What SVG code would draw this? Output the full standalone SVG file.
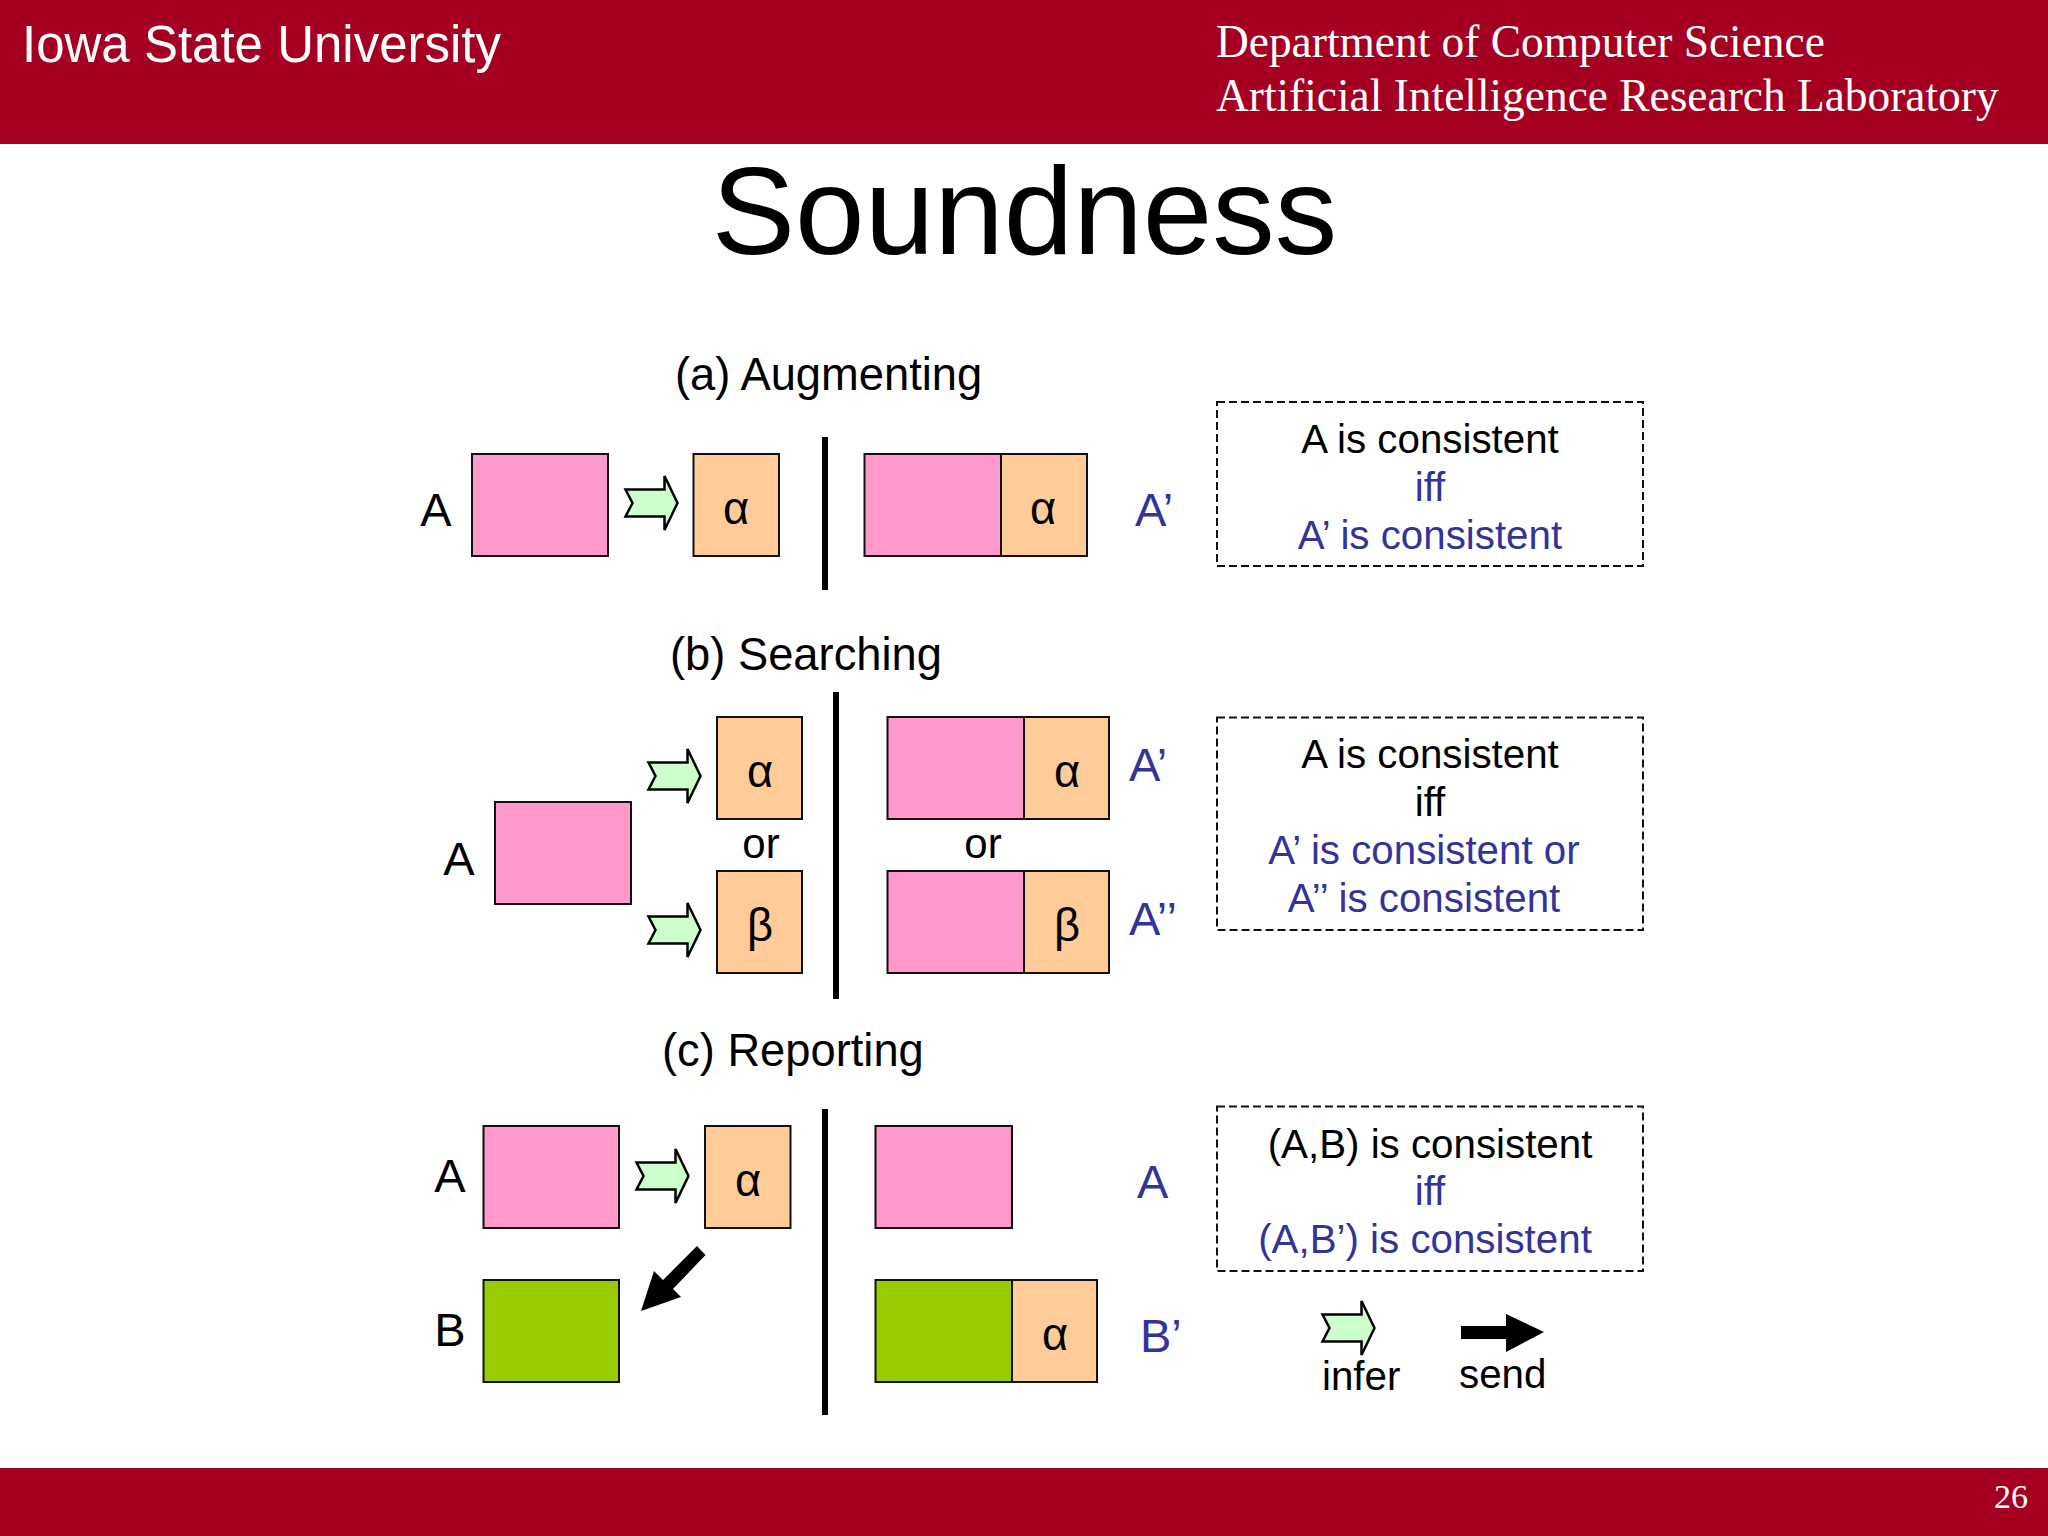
<svg xmlns="http://www.w3.org/2000/svg" width="2048" height="1536" viewBox="0 0 2048 1536">
<style>
text{font-family:"Liberation Sans",Arial,sans-serif;font-size:45.3px;fill:#000}
.s{font-family:"Liberation Serif","Times New Roman",serif;fill:#fff;font-size:45.4px}
.bl{fill:#333399}
.lb{font-size:47px}
.m{text-anchor:middle}
.b{font-size:40.3px;text-anchor:middle}
.p{fill:#FF99CC;stroke:#111;stroke-width:2}
.o{fill:#FFCC99;stroke:#111;stroke-width:2}
.g{fill:#99CC00;stroke:#111;stroke-width:2}
.d{fill:none;stroke:#111;stroke-width:2;stroke-dasharray:8 4}
.v{stroke:#000;stroke-width:6;fill:none}
.i{fill:#CCFFCC;stroke:#000;stroke-width:2.5}
</style>
<defs><path id="inf" d="M0,-13.5L39,-13.5L39,-27L52,0L39,27L39,13.5L0,13.5L7,0Z"/></defs>
<rect width="2048" height="1536" fill="#fff"/>
<g id="header"><rect width="2048" height="144" fill="#A50021"/>
<text x="22" y="62" style="font-size:51px;fill:#fff">Iowa State University</text>
<text class="s" x="1216" y="57">Department of Computer Science</text>
<text class="s" x="1216" y="111">Artificial Intelligence Research Laboratory</text></g>
<g id="footer"><rect y="1468" width="2048" height="68" fill="#A50021"/>
<text class="s" x="2028" y="1508" text-anchor="end" style="font-size:34px">26</text></g>
<text id="title" x="1024.500" y="254" class="m" style="font-size:125px">Soundness</text>
<text id="label-a" x="675" y="390">(a) Augmenting</text>
<text id="label-b" x="670" y="670">(b) Searching</text>
<text id="label-c" x="662" y="1066">(c) Reporting</text>

<g id="connectors">
<line class="v" x1="825" y1="437" x2="825" y2="590"/>
<line class="v" x1="836" y1="692" x2="836" y2="999"/>
<line class="v" x1="825" y1="1109" x2="825" y2="1415"/>
<use href="#inf" class="i" x="625.500" y="503"/>
<use href="#inf" class="i" x="648.500" y="776"/>
<use href="#inf" class="i" x="648.500" y="930"/>
<use href="#inf" class="i" x="636.500" y="1176"/>
<polygon points="697,1246 705.500,1255 673,1289 681,1297 641,1311 654,1271 663,1280" fill="#000"/>
</g>

<g id="a-left"><text x="436" y="526" class="m lb">A</text><rect class="p" x="472" y="454" width="136" height="102"/></g>
<g id="a-alpha"><rect class="o" x="693.500" y="454" width="85.500" height="102"/><text x="736" y="524" class="m">α</text></g>
<g id="a-right"><rect class="p" x="864.500" y="454" width="136.500" height="102"/><rect class="o" x="1001" y="454" width="86" height="102"/><text x="1043" y="524" class="m">α</text><text x="1135" y="526" class="bl lb">A’</text></g>
<g id="a-box"><rect class="d" x="1217" y="402" width="426" height="164"/>
<text x="1430" y="452.500" class="b">A is consistent</text><text x="1430" y="500.500" class="b bl">iff</text><text x="1430" y="548.500" class="b bl">A’ is consistent</text></g>

<g id="b-left"><text x="459" y="875" class="m lb">A</text><rect class="p" x="495" y="802" width="136" height="102"/></g>
<g id="b-alpha"><rect class="o" x="717" y="717" width="85" height="102"/><text x="760" y="787" class="m">α</text></g>
<text id="b-or1" x="761" y="858" class="b" style="font-size:42px">or</text>
<g id="b-beta"><rect class="o" x="717" y="871" width="85" height="102"/><text x="760" y="941" class="m">β</text></g>
<g id="b-right1"><rect class="p" x="887.500" y="717" width="136.500" height="102"/><rect class="o" x="1024" y="717" width="85" height="102"/><text x="1067" y="787" class="m">α</text><text x="1129" y="781" class="bl lb">A’</text></g>
<text id="b-or2" x="983" y="858" class="b" style="font-size:42px">or</text>
<g id="b-right2"><rect class="p" x="887.500" y="871" width="136.500" height="102"/><rect class="o" x="1024" y="871" width="85" height="102"/><text x="1067" y="941" class="m">β</text><text x="1129" y="935" class="bl lb">A’’</text></g>
<g id="b-box"><rect class="d" x="1217" y="717.500" width="426" height="212.500"/>
<text x="1430" y="768" class="b">A is consistent</text><text x="1430" y="816" class="b">iff</text><text x="1424" y="864" class="b bl">A’ is consistent or</text><text x="1424" y="912" class="b bl">A’’ is consistent</text></g>

<g id="c-a"><text x="450" y="1192" class="m lb">A</text><rect class="p" x="483.500" y="1126" width="135.500" height="102"/></g>
<g id="c-alpha"><rect class="o" x="705" y="1126" width="85.500" height="102"/><text x="748" y="1196" class="m">α</text></g>
<g id="c-b"><text x="450" y="1346" class="m lb">B</text><rect class="g" x="483.500" y="1280" width="135.500" height="102"/></g>
<g id="c-right-a"><rect class="p" x="875.500" y="1126" width="136.500" height="102"/><text x="1137" y="1198" class="bl lb">A</text></g>
<g id="c-right-b"><rect class="g" x="875.500" y="1280" width="136.500" height="102"/><rect class="o" x="1012" y="1280" width="85" height="102"/><text x="1055" y="1350" class="m">α</text><text x="1140" y="1352" class="bl lb">B’</text></g>
<g id="c-box"><rect class="d" x="1217" y="1106.500" width="426" height="164.500"/>
<text x="1430" y="1158" class="b">(A,B) is consistent</text><text x="1430" y="1205" class="b bl">iff</text><text x="1425" y="1253" class="b bl">(A,B’) is consistent</text></g>

<g id="legend-infer"><use href="#inf" class="i" x="1322.500" y="1328"/><text x="1322" y="1390" style="font-size:40.3px">infer</text></g>
<g id="legend-send"><polygon points="1461,1326 1506,1326 1506,1314 1544,1332 1506,1352 1506,1339 1461,1339" fill="#000"/><text x="1459" y="1388" style="font-size:40.3px">send</text></g>
</svg>
